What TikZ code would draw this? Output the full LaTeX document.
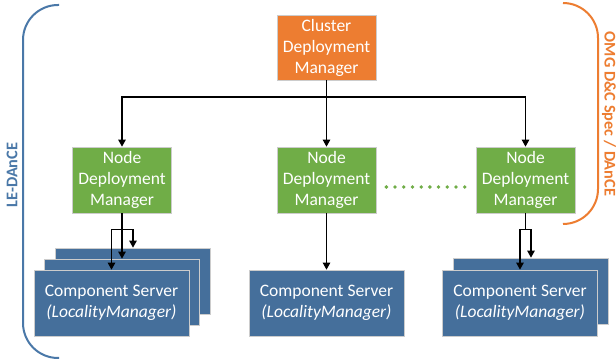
\documentclass[tikz,border=0pt]{standalone}
\usepackage{fontspec}
\setmainfont{Carlito}
\usetikzlibrary{arrows.meta}
\definecolor{cOr}{HTML}{ED7D31}
\definecolor{cGr}{HTML}{70AD47}
\definecolor{cBl}{HTML}{456F9B}
\definecolor{cBr}{HTML}{4A78A8}
\begin{document}
\begin{tikzpicture}[x=1pt,y=-1pt,
 box/.style={draw=white!80!black, line width=0.7pt, text=white, align=center, inner sep=0pt, font=\fontsize{17.5}{21}\selectfont},
 clbox/.style={box, fill=cOr, minimum width=99pt, minimum height=65pt},
 ndbox/.style={box, fill=cGr, minimum width=99pt, minimum height=66pt},
 csbox/.style={box, fill=cBl, minimum width=155pt, minimum height=66pt},
 arr/.style={-{Triangle[width=7.5pt,length=7pt]}, line width=1.1pt, black},
 conn/.style={line width=1.1pt, black},
 brk/.style={line width=2pt, rounded corners=35pt},
 lbl/.style={font=\fontsize{16.3}{18}\selectfont\bfseries, inner sep=0pt}]
\useasboundingbox (0,0) rectangle (616,363);
\fill[white] (0,0) rectangle (616,363);
% brackets
\draw[brk, cBr] (59,5) -- (23,5) -- (23,358) -- (59,358);
\draw[brk, cOr] (563,3) -- (598,3) -- (598,224) -- (563,224);
\node[lbl, text=cBr, rotate=90] (le) at (12,175) {LE-DAnCE};
\node[lbl, text=cOr, rotate=-90] (omg) at (609,114) {OMG D\&C Spec / DAnCE};
% top
\node[clbox] (cl) at (326.5,47.5) {Cluster\\Deployment\\Manager};
\node[ndbox] (nL) at (122,180) {Node\\Deployment\\Manager};
\node[ndbox] (nM) at (326.5,180) {Node\\Deployment\\Manager};
\node[ndbox] (nR) at (525.5,180) {Node\\Deployment\\Manager};
% component servers
\node[csbox] (csLb) at (133,281) {};
\node[csbox] (csLm) at (122,292) {};
\node[csbox] (csLf) at (111.5,303) {Component Server\\\textit{(LocalityManager)}};
\node[csbox] (csM) at (326.5,303) {Component Server\\\textit{(LocalityManager)}};
\node[csbox] (csRb) at (531,291) {};
\node[csbox] (csRf) at (520,303) {Component Server\\\textit{(LocalityManager)}};
% connectors
\coordinate (hub) at (326.5,97);
\draw[arr] (cl.south) -- (nM.north);
\draw[arr] (hub) -| (nL.north);
\draw[arr] (hub) -| (nR.north);
\draw[conn] (nL.south) -- ++(0,16) coordinate (jL);
\draw[arr] (nL.south) -- (csLm.north);
\draw[arr] (jL) -| (csLf.north);
\draw[arr] (jL) -| (csLb.north);
\draw[arr] (nM.south) -- (csM.north);
\draw[conn] (nR.south) -- ++(0,16) coordinate (jR);
\draw[arr] (jR) -| (csRf.north);
\draw[arr] (jR) -| (csRb.north);
% dotted
\draw[cGr, line width=3.8pt, line cap=round, dash pattern=on 0pt off 8.7pt] ([shift={(10,7)}]nM.east) -- ([shift={(-3,7)}]nR.west);
\end{tikzpicture}
\end{document}
